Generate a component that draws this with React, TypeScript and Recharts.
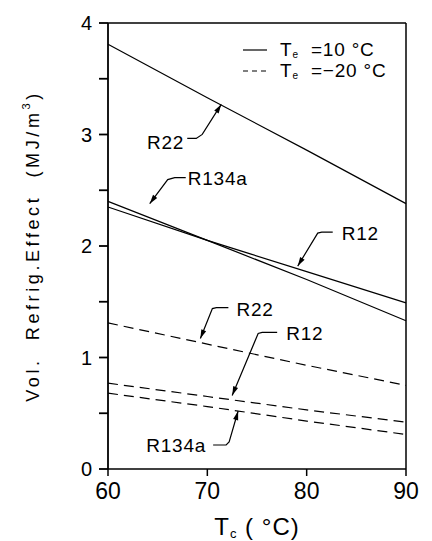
import React from 'react';
import { LineChart, Line, XAxis, YAxis, ReferenceLine, ReferenceDot } from 'recharts';

const tc = [60, 70, 80, 90];
const r22High = [3.81, 3.33, 2.86, 2.38];
const r134aHigh = [2.4, 2.05, 1.7, 1.33];
const r12High = [2.35, 2.05, 1.77, 1.49];
const r22Low = [1.31, 1.12, 0.93, 0.75];
const r12Low = [0.77, 0.65, 0.53, 0.42];
const r134aLow = [0.68, 0.56, 0.43, 0.31];
const xTicks = [60, 70, 80, 90];
const yTicks = [0, 0.5, 1, 1.5, 2, 2.5, 3, 3.5, 4];

const data = tc.map((t, i) => ({
  tc: t,
  r22High: r22High[i],
  r134aHigh: r134aHigh[i],
  r12High: r12High[i],
  r22Low: r22Low[i],
  r12Low: r12Low[i],
  r134aLow: r134aLow[i],
}));

// annotation: tip in data coords, leader path offsets (px) and label
const annotations = [
  { text: 'R22', x: 71.4, y: 3.27, path: [[-19, 30], [-25, 34], [-34, 34]], tx: -37, ty: 45, anchor: 'end' },
  { text: 'R134a', x: 64.2, y: 2.38, path: [[18, -24], [25, -26], [36, -26]], tx: 38, ty: -19, anchor: 'start' },
  { text: 'R12', x: 79.1, y: 1.82, path: [[20, -33], [24, -34], [35, -34]], tx: 44, ty: -26, anchor: 'start' },
  { text: 'R22', x: 69.3, y: 1.17, path: [[12, -30], [16, -31], [28, -31]], tx: 36, ty: -23, anchor: 'start' },
  { text: 'R12', x: 72.5, y: 0.66, path: [[26, -62], [30, -63], [45, -63]], tx: 54, ty: -55, anchor: 'start' },
  { text: 'R134a', x: 73.1, y: 0.52, path: [[-9, 31], [-12, 34], [-25, 34]], tx: -32, ty: 41, anchor: 'end' },
];

const FONT = '"Liberation Sans", Arial, sans-serif';

const Annotation = (props: any) => {
  const { cx, cy, a } = props;
  if (cx == null || cy == null) return null;
  const pts = [[0, 0], ...a.path].map(([dx, dy]: number[]) => `${cx + dx},${cy + dy}`).join(' ');
  const [fx, fy] = a.path[0];
  const len = Math.hypot(fx, fy);
  const ux = fx / len;
  const uy = fy / len;
  const L = 9;
  const W = 2.6;
  const bx = cx + ux * L;
  const by = cy + uy * L;
  const head = `${cx},${cy} ${bx - uy * W},${by + ux * W} ${bx + uy * W},${by - ux * W}`;
  return (
    <g>
      <polyline points={pts} fill="none" stroke="#000" strokeWidth={1.2} />
      <polygon points={head} fill="#000" />
      <text
        x={cx + a.tx}
        y={cy + a.ty}
        textAnchor={a.anchor}
        fontSize={19}
        letterSpacing={0.8}
        fontFamily={FONT}
        fill="#000"
      >
        {a.text}
      </text>
    </g>
  );
};

const LegendBox = () => (
  <svg width={190} height={50} style={{ position: 'absolute', left: 230, top: 35 }}>
    <line x1={13} y1={15} x2={37} y2={15} stroke="#000" strokeWidth={1.2} />
    <text x={50} y={21} fontSize={19} letterSpacing={0.8} fontFamily={FONT} fill="#000" style={{ whiteSpace: 'pre' }}>
      T<tspan fontSize={10} dy={2}>e</tspan>
      <tspan dy={-2}>  =10 °C</tspan>
    </text>
    <line x1={13} y1={36} x2={37} y2={36} stroke="#000" strokeWidth={1.2} strokeDasharray="5 4" />
    <text x={50} y={42} fontSize={19} letterSpacing={0.8} fontFamily={FONT} fill="#000" style={{ whiteSpace: 'pre' }}>
      T<tspan fontSize={10} dy={2}>e</tspan>
      <tspan dy={-2}>  =−20 °C</tspan>
    </text>
  </svg>
);

const YLabel = (props: any) => {
  const vb = props.viewBox || {};
  const cy = (vb.y || 0) + (vb.height || 0) / 2;
  const x = 33;
  return (
    <text
      x={x}
      y={cy}
      transform={`rotate(-90, ${x}, ${cy})`}
      textAnchor="middle"
      dominantBaseline="central"
      fontSize={18}
      letterSpacing={3.6}
      fontFamily={FONT}
      fill="#000"
      style={{ whiteSpace: 'pre' }}
    >
      {'Vol.  Refrig.Effect  (MJ/m'}
      <tspan fontSize={11} dy={-7}>3</tspan>
      <tspan dy={7}>)</tspan>
    </text>
  );
};

const XLabel = (props: any) => {
  const vb = props.viewBox || {};
  const cx = (vb.x || 0) + (vb.width || 0) / 2;
  return (
    <text
      x={cx}
      y={535}
      textAnchor="middle"
      fontSize={24}
      letterSpacing={1}
      fontFamily={FONT}
      fill="#000"
      style={{ whiteSpace: 'pre' }}
    >
      T<tspan fontSize={13} dy={3}>c</tspan>
      <tspan dy={-3}> ( °C)</tspan>
    </text>
  );
};

export default function App() {
  return (
    <div style={{ position: 'absolute', left: 0, top: 0, background: '#fff', width: 432, height: 541 }}>
      <LineChart width={432} height={541} data={data} margin={{ top: 23, right: 26, bottom: 0, left: 0 }}>
        <XAxis
          dataKey="tc"
          type="number"
          domain={[60, 90]}
          ticks={xTicks}
          height={72}
          stroke="#000"
          strokeWidth={1.5}
          tickSize={7}
          tickMargin={7}
          tick={{ fontSize: 23, fill: '#000', fontFamily: FONT }}
          label={<XLabel />}
        />
        <YAxis
          type="number"
          domain={[0, 4]}
          ticks={yTicks}
          width={108}
          stroke="#000"
          strokeWidth={1.8}
          tickSize={9}
          tickMargin={7}
          tickFormatter={(v: number) => (Number.isInteger(v) ? String(v) : '')}
          tick={{ fontSize: 20, fill: '#000', fontFamily: FONT }}
          interval={0}
          label={<YLabel />}
        />
        <ReferenceLine y={4} stroke="#000" strokeWidth={1.5} />
        <ReferenceLine x={90} stroke="#000" strokeWidth={1.5} />
        <Line dataKey="r22High" stroke="#000" strokeWidth={1.2} dot={false} isAnimationActive={false} />
        <Line dataKey="r134aHigh" stroke="#000" strokeWidth={1.2} dot={false} isAnimationActive={false} />
        <Line dataKey="r12High" stroke="#000" strokeWidth={1.2} dot={false} isAnimationActive={false} />
        <Line dataKey="r22Low" stroke="#000" strokeWidth={1.2} strokeDasharray="10 6" dot={false} isAnimationActive={false} />
        <Line dataKey="r12Low" stroke="#000" strokeWidth={1.2} strokeDasharray="10 6" dot={false} isAnimationActive={false} />
        <Line dataKey="r134aLow" stroke="#000" strokeWidth={1.2} strokeDasharray="10 6" dot={false} isAnimationActive={false} />
        {annotations.map((a, i) => (
          <ReferenceDot key={i} x={a.x} y={a.y} r={0} shape={(p: any) => <Annotation {...p} a={a} />} />
        ))}
      </LineChart>
      <LegendBox />
    </div>
  );
}
